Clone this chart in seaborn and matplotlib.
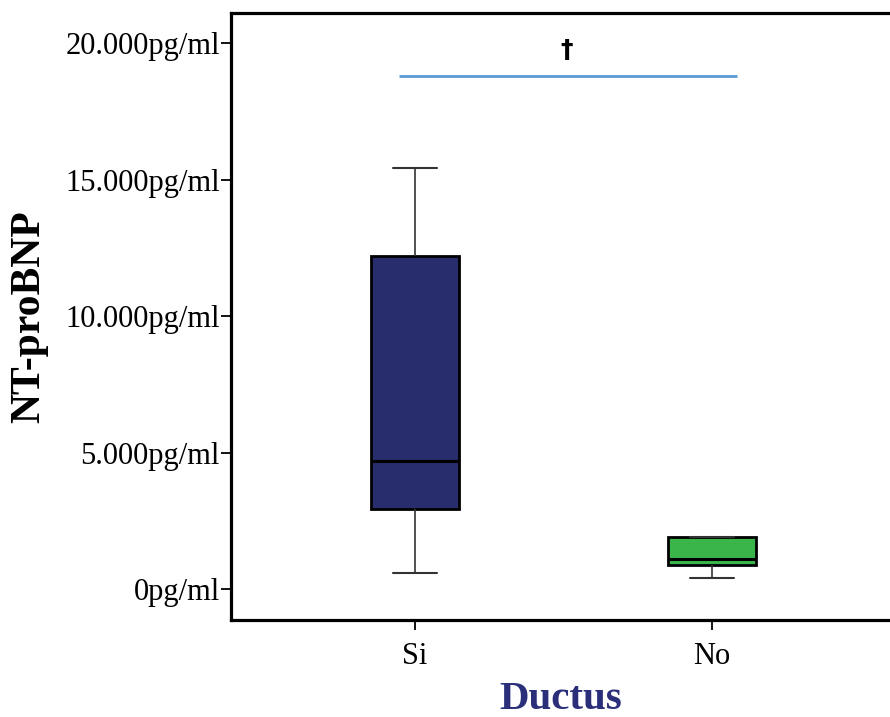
import matplotlib
matplotlib.use("Agg")
import matplotlib.pyplot as plt
import seaborn as sns
import pandas as pd

# Data: five-number summaries (pg/ml)
categories = ["Si", "No"]
si_values = [590, 2930, 4690, 12200, 15420]
no_values = [400, 880, 1100, 1900, 1900]
box_colors = ["#282d6e", "#3ab54a"]
yticks = [0, 5000, 10000, 15000, 20000]
ytick_labels = ["0pg/ml", "5.000pg/ml", "10.000pg/ml", "15.000pg/ml", "20.000pg/ml"]
sig_level = 18800
sig_mark = "†"

df = pd.DataFrame({
    "Ductus": ["Si"] * len(si_values) + ["No"] * len(no_values),
    "NT-proBNP": si_values + no_values,
})

sns.set_theme(style="white")
plt.rcParams["font.family"] = ["Liberation Serif", "DejaVu Serif"]

fig = plt.figure(figsize=(8.9, 7.17), dpi=100)
ax = fig.add_axes([0.2596, 0.1353, 0.7404, 0.8466])

sns.boxplot(
    data=df, x="Ductus", y="NT-proBNP", hue="Ductus", order=categories,
    palette=box_colors, saturation=1, legend=False, width=0.296, fliersize=0, ax=ax,
    linewidth=1.8, linecolor="black",
    whiskerprops=dict(color="#333333", linewidth=1.2),
    capprops=dict(color="#333333", linewidth=1.5),
    medianprops=dict(color="black", linewidth=2.2),
    boxprops=dict(edgecolor="black", linewidth=2.0),
)

ax.set_xlim(-0.62, 1.6)
ax.set_ylim(-1135, 21100)
ax.set_yticks(yticks)
ax.set_yticklabels(ytick_labels)

for side in ["left", "bottom", "top"]:
    ax.spines[side].set_visible(True)
    ax.spines[side].set_color("black")
    ax.spines[side].set_linewidth(2.3)
ax.spines["right"].set_visible(False)

ax.tick_params(axis="both", which="both", direction="out", length=7, width=1.3,
               color="black", labelsize=22, labelcolor="black", pad=1)
ax.tick_params(axis="y", left=True)
ax.tick_params(axis="x", bottom=True, pad=9)

ax.set_ylabel("NT-proBNP", fontsize=30, fontweight="bold", color="black", labelpad=12)
ax.set_xlabel("Ductus", fontsize=29.5, fontweight="bold", color="#2b2f7a", labelpad=7)

# significance line
ax.plot([-0.054, 1.084], [sig_level, sig_level], color="#5b9bd5", linewidth=2, solid_capstyle="butt")
ax.text(0.51, 19750, sig_mark, ha="center", va="center", fontsize=18, fontweight="bold",
        family=["DejaVu Sans"], color="black")

fig.savefig("out.png", dpi=100)
